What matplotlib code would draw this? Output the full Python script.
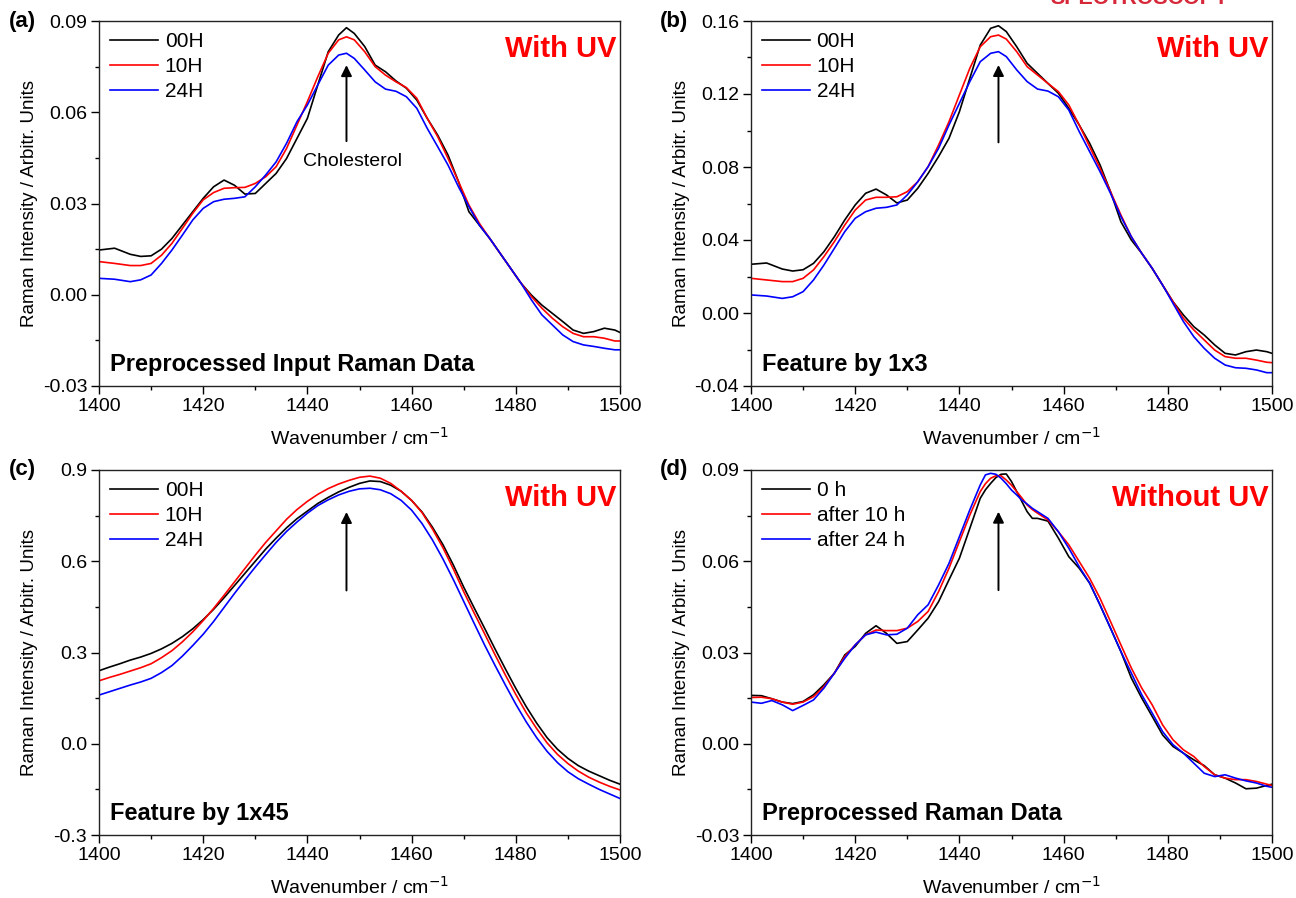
import numpy as np
import matplotlib
matplotlib.use("Agg")
import matplotlib.pyplot as plt
from matplotlib.ticker import MultipleLocator, FormatStrFormatter

plt.rcParams['font.family'] = ['Liberation Sans', 'DejaVu Sans']
plt.rcParams['axes.unicode_minus'] = False

# ---- data ----
wn_ab = [1400, 1403, 1406, 1408, 1410, 1412, 1414, 1416, 1418, 1420, 1422, 1424, 1426,
         1428, 1430, 1432, 1434, 1436, 1438, 1440, 1442, 1444, 1446, 1447.5, 1449, 1451,
         1453, 1455, 1457, 1459, 1461, 1463, 1465, 1467, 1469, 1471, 1473, 1475, 1477,
         1479, 1481, 1483, 1485, 1487, 1489, 1491, 1493, 1495, 1497, 1499, 1500]

a_00h = [0.0147, 0.0153, 0.0133, 0.0126, 0.0128, 0.0150, 0.0185, 0.0229, 0.0273, 0.0317,
         0.0355, 0.0377, 0.0360, 0.0331, 0.0333, 0.0366, 0.0399, 0.0448, 0.0514, 0.0580,
         0.0690, 0.0799, 0.0854, 0.0878, 0.0859, 0.0816, 0.0755, 0.0733, 0.0703, 0.0679,
         0.0640, 0.0580, 0.0525, 0.0459, 0.0372, 0.0273, 0.0229, 0.0185, 0.0136, 0.0087,
         0.0038, -0.0001, -0.0034, -0.0061, -0.0088, -0.0116, -0.0127, -0.0121, -0.0110,
         -0.0116, -0.0124]
a_10h = [0.0109, 0.0103, 0.0096, 0.0096, 0.0103, 0.0130, 0.0169, 0.0218, 0.0268, 0.0312,
         0.0336, 0.0350, 0.0352, 0.0353, 0.0366, 0.0388, 0.0421, 0.0481, 0.0558, 0.0635,
         0.0717, 0.0794, 0.0838, 0.0848, 0.0838, 0.0799, 0.0750, 0.0722, 0.0700, 0.0681,
         0.0646, 0.0580, 0.0520, 0.0448, 0.0372, 0.0295, 0.0235, 0.0185, 0.0136, 0.0087,
         0.0038, -0.0006, -0.0044, -0.0077, -0.0105, -0.0127, -0.0138, -0.0138, -0.0143,
         -0.0152, -0.0152]
a_24h = [0.0054, 0.0051, 0.0043, 0.0049, 0.0065, 0.0103, 0.0147, 0.0196, 0.0246, 0.0284,
         0.0306, 0.0314, 0.0317, 0.0322, 0.0355, 0.0394, 0.0437, 0.0498, 0.0569, 0.0624,
         0.0690, 0.0755, 0.0788, 0.0794, 0.0777, 0.0739, 0.0700, 0.0676, 0.0669, 0.0651,
         0.0613, 0.0547, 0.0487, 0.0426, 0.0355, 0.0290, 0.0229, 0.0185, 0.0136, 0.0087,
         0.0038, -0.0017, -0.0066, -0.0099, -0.0132, -0.0154, -0.0165, -0.0170, -0.0176,
         -0.0181, -0.0181]

b_00h = [0.0267, 0.0274, 0.0241, 0.0230, 0.0237, 0.0272, 0.0336, 0.0418, 0.0510, 0.0592,
         0.0656, 0.0679, 0.0647, 0.0603, 0.0619, 0.0683, 0.0765, 0.0857, 0.0957, 0.1103,
         0.1286, 0.1468, 0.1560, 0.1574, 0.1542, 0.1459, 0.1368, 0.1313, 0.1258, 0.1204,
         0.1121, 0.1030, 0.0930, 0.0811, 0.0665, 0.0500, 0.0400, 0.0327, 0.0245, 0.0153,
         0.0062, -0.0011, -0.0075, -0.0121, -0.0175, -0.0221, -0.0230, -0.0212, -0.0203,
         -0.0212, -0.0221]
b_10h = [0.0190, 0.0181, 0.0172, 0.0172, 0.0190, 0.0236, 0.0309, 0.0391, 0.0482, 0.0564,
         0.0619, 0.0634, 0.0634, 0.0637, 0.0665, 0.0719, 0.0802, 0.0920, 0.1048, 0.1195,
         0.1341, 0.1459, 0.1514, 0.1523, 0.1501, 0.1432, 0.1350, 0.1304, 0.1258, 0.1213,
         0.1140, 0.1030, 0.0911, 0.0793, 0.0665, 0.0537, 0.0418, 0.0327, 0.0245, 0.0153,
         0.0062, -0.0029, -0.0093, -0.0148, -0.0203, -0.0239, -0.0248, -0.0248, -0.0258,
         -0.0270, -0.0272]
b_24h = [0.0099, 0.0093, 0.0080, 0.0089, 0.0117, 0.0181, 0.0263, 0.0354, 0.0446, 0.0519,
         0.0555, 0.0574, 0.0579, 0.0592, 0.0647, 0.0719, 0.0802, 0.0902, 0.1030, 0.1149,
         0.1268, 0.1377, 0.1423, 0.1432, 0.1405, 0.1332, 0.1268, 0.1227, 0.1216, 0.1185,
         0.1112, 0.0994, 0.0884, 0.0774, 0.0656, 0.0528, 0.0418, 0.0327, 0.0245, 0.0153,
         0.0053, -0.0047, -0.0130, -0.0194, -0.0248, -0.0285, -0.0300, -0.0303, -0.0312,
         -0.0327, -0.0327]

wn_c = list(range(1400, 1501, 2))
c_00h = [0.240, 0.252, 0.263, 0.275, 0.285, 0.297, 0.312, 0.330, 0.352, 0.378, 0.408, 0.442,
         0.480, 0.520, 0.560, 0.600, 0.640, 0.676, 0.710, 0.740, 0.765, 0.790, 0.810, 0.828,
         0.843, 0.856, 0.864, 0.862, 0.850, 0.830, 0.800, 0.762, 0.712, 0.655, 0.588, 0.515,
         0.447, 0.380, 0.312, 0.246, 0.182, 0.122, 0.068, 0.020, -0.018, -0.048, -0.072,
         -0.090, -0.105, -0.120, -0.133]
c_10h = [0.207, 0.218, 0.228, 0.239, 0.250, 0.263, 0.283, 0.306, 0.335, 0.368, 0.405, 0.445,
         0.488, 0.532, 0.576, 0.620, 0.662, 0.700, 0.738, 0.770, 0.797, 0.820, 0.839, 0.854,
         0.866, 0.876, 0.880, 0.873, 0.856, 0.830, 0.800, 0.760, 0.706, 0.645, 0.575, 0.500,
         0.430, 0.362, 0.293, 0.226, 0.162, 0.102, 0.050, 0.003, -0.035, -0.065, -0.090,
         -0.110, -0.126, -0.140, -0.152]
c_24h = [0.160, 0.171, 0.182, 0.193, 0.203, 0.215, 0.234, 0.257, 0.288, 0.323, 0.360, 0.402,
         0.448, 0.494, 0.538, 0.581, 0.622, 0.662, 0.698, 0.729, 0.758, 0.783, 0.802, 0.818,
         0.830, 0.838, 0.840, 0.835, 0.822, 0.800, 0.768, 0.724, 0.670, 0.608, 0.540, 0.468,
         0.396, 0.325, 0.258, 0.193, 0.130, 0.072, 0.020, -0.025, -0.062, -0.092, -0.115,
         -0.133, -0.150, -0.165, -0.180]

wn_d = [1400, 1402, 1404, 1406, 1408, 1410, 1412, 1414, 1416, 1418, 1420, 1422, 1424, 1426,
        1428, 1430, 1432, 1434, 1436, 1438, 1440, 1442, 1444, 1445, 1446, 1447, 1448, 1449,
        1450, 1451, 1452, 1453, 1454, 1455, 1457, 1459, 1461, 1463, 1465, 1467, 1469, 1471,
        1473, 1475, 1477, 1479, 1481, 1483, 1485, 1487, 1489, 1491, 1493, 1495, 1497, 1499,
        1500]
d_0h = [0.0159, 0.0158, 0.0148, 0.0137, 0.0132, 0.0139, 0.0161, 0.0194, 0.0232, 0.0292,
        0.0320, 0.0363, 0.0388, 0.0363, 0.0330, 0.0336, 0.0374, 0.0413, 0.0467, 0.0539,
        0.0610, 0.0708, 0.0807, 0.0835, 0.0856, 0.0875, 0.0886, 0.0887, 0.0862, 0.0829,
        0.0796, 0.0763, 0.0741, 0.0741, 0.0732, 0.0676, 0.0615, 0.0577, 0.0528, 0.0456,
        0.0380, 0.0303, 0.0216, 0.0150, 0.0090, 0.0029, -0.0009, -0.0031, -0.0053, -0.0072,
        -0.0102, -0.0113, -0.0129, -0.0148, -0.0146, -0.0137, -0.0133]
d_10h = [0.0152, 0.0153, 0.0148, 0.0137, 0.0130, 0.0137, 0.0155, 0.0188, 0.0232, 0.0287,
         0.0325, 0.0358, 0.0374, 0.0372, 0.0372, 0.0380, 0.0402, 0.0435, 0.0500, 0.0577,
         0.0665, 0.0752, 0.0829, 0.0855, 0.0873, 0.0881, 0.0881, 0.0867, 0.0850, 0.0829,
         0.0808, 0.0785, 0.0770, 0.0758, 0.0736, 0.0697, 0.0654, 0.0599, 0.0544, 0.0478,
         0.0402, 0.0325, 0.0249, 0.0183, 0.0128, 0.0062, 0.0013, -0.0020, -0.0042, -0.0075,
         -0.0102, -0.0113, -0.0118, -0.0118, -0.0124, -0.0133, -0.0137]
d_24h = [0.0137, 0.0133, 0.0142, 0.0128, 0.0109, 0.0126, 0.0144, 0.0183, 0.0232, 0.0281,
         0.0325, 0.0358, 0.0367, 0.0358, 0.0360, 0.0380, 0.0424, 0.0457, 0.0522, 0.0593,
         0.0681, 0.0769, 0.0851, 0.0884, 0.0889, 0.0886, 0.0873, 0.0855, 0.0834, 0.0818,
         0.0801, 0.0788, 0.0774, 0.0763, 0.0741, 0.0697, 0.0643, 0.0582, 0.0528, 0.0456,
         0.0380, 0.0303, 0.0232, 0.0161, 0.0101, 0.0040, -0.0003, -0.0031, -0.0064, -0.0097,
         -0.0108, -0.0102, -0.0113, -0.0122, -0.0129, -0.0140, -0.0143]

uv_labels = ['00H', '10H', '24H']
no_uv_labels = ['0 h', 'after 10 h', 'after 24 h']
colors = ['black', '#ff0000', '#0000ff']

fig = plt.figure(figsize=(12.96, 8.98), dpi=100)
W, H = 1296, 898


def make_ax(left, top):
    return fig.add_axes([left / W, 1 - (top + 365) / H, 521 / W, 365 / H])


def style(ax, ylim, ymajor, fmt):
    ax.set_xlim(1400, 1500)
    ax.set_ylim(*ylim)
    ax.xaxis.set_major_locator(MultipleLocator(20))
    ax.xaxis.set_minor_locator(MultipleLocator(10))
    ax.yaxis.set_major_locator(MultipleLocator(ymajor))
    ax.yaxis.set_minor_locator(MultipleLocator(ymajor / 2))
    ax.yaxis.set_major_formatter(FormatStrFormatter(fmt))
    ax.tick_params(which='both', direction='out', top=False, right=False,
                   width=1.0, labelsize=14, pad=3)
    ax.tick_params(which='major', length=5.5)
    ax.tick_params(which='minor', length=3)
    for s in ax.spines.values():
        s.set_linewidth(1.0)
        s.set_color('#222222')
    ax.set_xlabel('Wavenumber / cm$^{-1}$', fontsize=14)
    ax.set_ylabel('Raman Intensity / Arbitr. Units', fontsize=13.5)
    ax.xaxis.set_label_coords(0.5, -0.112)
    ax.yaxis.set_label_coords(-0.117, 0.5)


def draw(ax, x, series, labels, tag, note, arrow):
    for y, lab, c in zip(series, labels, colors):
        ax.plot(x, y, color=c, lw=1.2, label=lab)
    ax.legend(loc='upper left', frameon=False, fontsize=15, handlelength=2.3,
              handletextpad=0.3, labelspacing=0.28, borderaxespad=0.2, borderpad=0.35)
    ax.text(0.994, 0.901, tag, transform=ax.transAxes, ha='right', va='baseline',
            color='#ff0000', fontsize=21, fontweight='bold')
    ax.text(0.021, 0.04, note, transform=ax.transAxes, ha='left', va='baseline',
            fontsize=17, fontweight='bold')
    ax.annotate('', xy=(1447.5, arrow[1]), xytext=(1447.5, arrow[0]),
                arrowprops=dict(arrowstyle='-|>', color='black', lw=1.4,
                                mutation_scale=16, shrinkA=0, shrinkB=0))


ax_a = make_ax(99, 21)
style(ax_a, (-0.03, 0.09), 0.03, '%.2f')
draw(ax_a, wn_ab, [a_00h, a_10h, a_24h], uv_labels, 'With UV',
     'Preprocessed Input Raman Data', (0.0505, 0.0755))
ax_a.text(1448.6, 0.0438, 'Cholesterol', ha='center', va='center', fontsize=14)

ax_b = make_ax(751, 21)
style(ax_b, (-0.04, 0.16), 0.04, '%.2f')
draw(ax_b, wn_ab, [b_00h, b_10h, b_24h], uv_labels, 'With UV',
     'Feature by 1x3', (0.0935, 0.1359))

ax_c = make_ax(99, 470)
style(ax_c, (-0.3, 0.9), 0.3, '%.1f')
draw(ax_c, wn_c, [c_00h, c_10h, c_24h], uv_labels, 'With UV',
     'Feature by 1x45', (0.504, 0.762))

ax_d = make_ax(751, 470)
style(ax_d, (-0.03, 0.09), 0.03, '%.2f')
draw(ax_d, wn_d, [d_0h, d_10h, d_24h], no_uv_labels, 'Without UV',
     'Preprocessed Raman Data', (0.0505, 0.0763))

for lab, px, py in [('(a)', 9, 22), ('(b)', 660, 22), ('(c)', 9, 470), ('(d)', 660, 470)]:
    fig.text(px / W, 1 - py / H, lab, ha='left', va='center', fontsize=16, fontweight='bold')

# journal banner cut off at the top edge
fig.text(1140 / W, 1 - 4 / H, 'SPECTROSCOPY', ha='center', va='baseline',
         color='#d7283a', fontsize=15.5, fontweight='bold')

fig.savefig('out.png', dpi=100)
